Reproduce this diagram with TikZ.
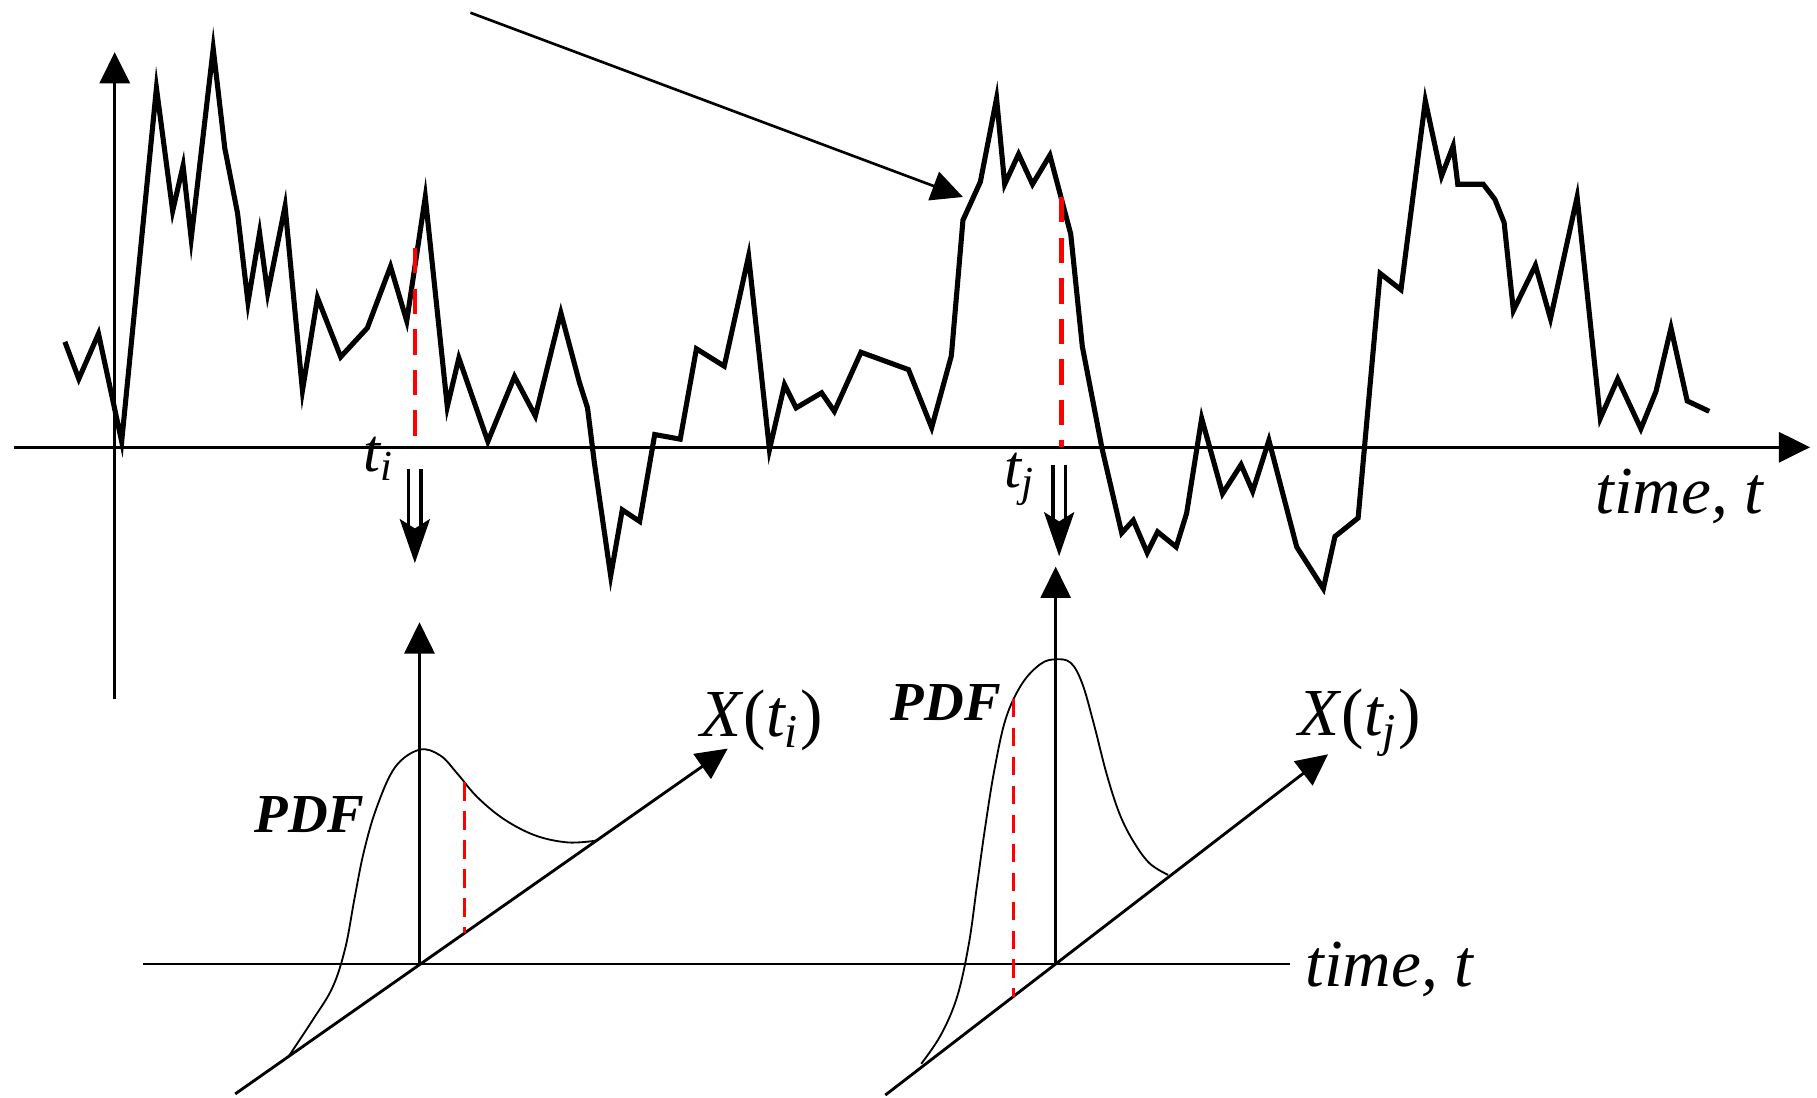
\documentclass[tikz,border=0pt]{standalone}
\usepackage{fontspec}
\setmainfont{Liberation Serif}
\usetikzlibrary{arrows.meta,positioning}

\begin{document}
\begin{tikzpicture}[x=0.1mm,y=-0.1mm,>={Triangle[length=2.7mm,width=2.6mm]},
  axis/.style={line width=0.8pt,->},
  baseline axis/.style={line width=0.5pt},
  walk/.style={line width=1.25pt,line join=miter},
  cut/.style={red,line width=1.1pt,dash pattern=on 2.2mm off 1.3mm},
  cutpdf/.style={red,line width=0.7pt,dash pattern=on 1.6mm off 0.9mm},
  density/.style={line width=0.45pt},
  sample/.style={line width=0.9pt,double distance=0.8mm,-{Stealth[length=3.8mm,width=2.6mm,inset=0.8mm]}},
  pointer/.style={line width=0.65pt,->},
  axlabel/.style={font=\fontsize{16.5}{18}\selectfont\itshape,inner sep=0pt,anchor=base west},
  tlabel/.style={font=\fontsize{15}{17}\selectfont\itshape,inner sep=0pt,anchor=base west},
  pdflabel/.style={font=\fontsize{13.5}{15}\selectfont\bfseries\itshape,inner sep=0pt,anchor=base west}]
  \useasboundingbox (0,0) rectangle (1568,947);
  \coordinate (xs) at (12,386);
  \coordinate (xe) at (1562,386);
  \coordinate (ys) at (99,603);
  \coordinate (ye) at (99,45);
  \draw[axis] (xs) -- (xe);
  \draw[axis] (ys) -- (ye);
  \draw[walk] plot coordinates {(56,295) (68,327) (85,288) (105,381) (135,76) (149,182)
    (158,143) (165,206) (184,42) (194,128) (205,184) (214,261) (224,201) (231,253)
    (246,178) (261,337) (274,257) (294,308) (317,283) (337,230) (351,277) (367,170)
    (386,351) (396,309) (421,381) (444,325) (462,359) (484,270) (500,330) (507,352)
    (513,400) (527,497) (537,440) (552,450) (565,375) (587,379) (601,301) (625,316)
    (646,221) (664,388) (677,332) (687,352) (709,339) (720,355) (743,304) (784,319)
    (804,369) (821,307) (831,190) (846,157) (860,85) (867,159) (879,133) (891,159)
    (906,134) (924,202) (934,299) (951,387) (968,460) (978,449) (990,477) (999,459)
    (1015,472) (1024,443) (1037,361) (1055,426) (1071,401) (1081,424) (1095,380)
    (1119,472) (1142,508) (1152,463) (1172,447) (1191,236) (1209,250) (1230,87)
    (1244,152) (1254,126) (1258,159) (1280,159) (1290,172) (1298,192) (1306,268)
    (1325,229) (1338,275) (1361,170) (1381,361) (1396,327) (1416,370) (1429,338)
    (1442,283) (1456,346) (1475,355)};
  \node[axlabel] (timeup) at (1376,443) {time, t};
  \coordinate (src) at (406,11);
  \coordinate (hit) at (831,170);
  \draw[pointer] (src) -- (hit);
  \coordinate (ciTop) at (358,214);
  \coordinate (ciBot) at (358,386);
  \coordinate (cjTop) at (916,170);
  \coordinate (cjBot) at (916,386);
  \draw[cut] (ciTop) -- (ciBot);
  \draw[cut] (cjTop) -- (cjBot);
  \node[tlabel] (ti) at (313,407) {t\textsubscript{i}};
  \node[tlabel] (tj) at (866,421) {t\textsubscript{j}};
  \coordinate (di1) at (358,405);
  \coordinate (di2) at (358,486);
  \coordinate (dj1) at (914,401);
  \coordinate (dj2) at (914,480);
  \draw[sample] (di1) -- (di2);
  \draw[sample] (dj1) -- (dj2);
  \coordinate (baseL) at (123,832);
  \coordinate (baseR) at (1113,832);
  \draw[baseline axis] (baseL) -- (baseR);
  \node[axlabel] (timelow) at (1126,851) {time, t};
  \coordinate (oi) at (362,832);
  \coordinate (oiTop) at (362,537);
  \coordinate (oiTail) at (203,944);
  \coordinate (oiHead) at (628,646);
  \draw[axis,line width=0.6pt] (oi) -- (oiTop);
  \draw[axis,line width=0.7pt] (oiTail) -- (oiHead);
  \draw[density] plot[smooth,tension=0.6] coordinates {(249.5,911) (270,880) (287,852)
    (298,818) (306,775) (314,735) (325,697) (341,662) (362,647) (380,652) (395,668)
    (412,688) (435,707) (462,721) (490,727) (514,725.5)};
  \coordinate (pi1) at (400.5,675);
  \coordinate (pi2) at (400.5,805);
  \draw[cutpdf] (pi1) -- (pi2);
  \node[pdflabel] (pdfi) at (219,718) {PDF};
  \node[axlabel] (xti) at (604,636) {X\textup{(}t\textsubscript{i}\textup{)}};
  \coordinate (oj) at (911,832);
  \coordinate (ojTop) at (911,489);
  \coordinate (ojTail) at (764,945);
  \coordinate (ojHead) at (1146,651);
  \draw[axis,line width=0.6pt] (oj) -- (ojTop);
  \draw[axis,line width=0.7pt] (ojTail) -- (ojHead);
  \draw[density] plot[smooth,tension=0.6] coordinates {(795,918) (812,893) (826,860)
    (836,815) (843,765) (850,715) (858,665) (868,620) (882,590) (898,573) (911,569)
    (924,572) (934,590) (944,625) (955,668) (966,702) (978,726) (992,745) (1008,755)};
  \coordinate (pj1) at (874.5,603);
  \coordinate (pj2) at (874.5,860);
  \draw[cutpdf] (pj1) -- (pj2);
  \node[pdflabel] (pdfj) at (768,622) {PDF};
  \node[axlabel] (xtj) at (1120,635) {X\textup{(}t\textsubscript{j}\textup{)}};
\end{tikzpicture}
\end{document}
